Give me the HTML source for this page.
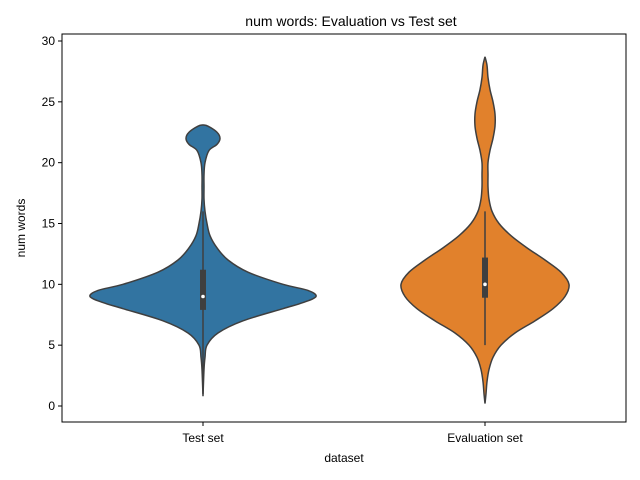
<!DOCTYPE html>
<html><head><meta charset="utf-8"><style>
body{margin:0;background:#fff;}
svg{display:block;font-family:"Liberation Sans","DejaVu Sans",sans-serif;}
</style></head><body>
<svg id="chart" width="640" height="480"></svg>
<script>
const categories=["Test set","Evaluation set"];
const colors=["#3274a1","#e1812c"];
const yTicks=[0,5,10,15,20,25,30];
const testVals=[0.8,3,4,5,6,7,8,8.5,9,9.5,10,11,12,13,14,15,16,17,18,19,20,21,21.5,22,22.5,23,23.1];
const testDens=[0,1,2,4,15,40,80,100,113,105,80,45,25,14,7,4,2,1,1,1,2,6,14,17,14,5,0];
const evalVals=[0.2,1,2,3,4,5,6,7,8,9,10,11,12,13,14,15,16,17,18,19,20,21,22,23,24,25,26,27,28,28.7];
const evalDens=[0,1,2,4,8,16,30,50,68,80,84,76,60,42,26,14,7,4,3,3,3,5,8,10,10,8,5,3,2,0];
const boxQ1=[7.9,8.9];
const boxQ3=[11.2,12.2];
const medians=[9,10];
const whiskLo=[1,5];
const whiskHi=[16,16];

const NS="http://www.w3.org/2000/svg";
const svg=document.getElementById('chart');
const L=62,R=626,T=34,B=422;
const y=v=>406-v*(365/30);
const x=i=>203+i*282;
function el(t,a,p){const e=document.createElementNS(NS,t);for(const k in a)e.setAttribute(k,a[k]);(p||svg).appendChild(e);return e;}
function smooth(pts){let d="M"+pts[0][0]+","+pts[0][1];for(let i=0;i<pts.length-1;i++){const p0=pts[Math.max(0,i-1)],p1=pts[i],p2=pts[i+1],p3=pts[Math.min(pts.length-1,i+2)];const c1=[p1[0]+(p2[0]-p0[0])/6,p1[1]+(p2[1]-p0[1])/6],c2=[p2[0]-(p3[0]-p1[0])/6,p2[1]-(p3[1]-p1[1])/6];d+=" C"+c1+" "+c2+" "+p2;}return d;}

const t=el('text',{x:351,y:26,'text-anchor':'middle','font-size':14,fill:'#000'});t.textContent="num words: Evaluation vs Test set";


const vals=[testVals,evalVals],dens=[testDens,evalDens];
for(let i=0;i<2;i++){
  const cx=x(i);
  const right=vals[i].map((v,j)=>[cx+dens[i][j],y(v)]);
  const left=vals[i].map((v,j)=>[cx-dens[i][j],y(v)]).reverse();
  const d=smooth(right)+" L"+smooth(left).slice(1)+" Z";
  const v=el('path',{d:d,fill:colors[i],stroke:'#3f3f3f','stroke-width':1.5});
  
  
  const w=el('line',{x1:cx,x2:cx,y1:y(whiskLo[i]),y2:y(whiskHi[i]),stroke:'#3f3f3f','stroke-width':1.5});
  
  const b=el('rect',{x:cx-3,y:y(boxQ3[i]),width:6,height:y(boxQ1[i])-y(boxQ3[i]),fill:'#3f3f3f'});
  
  const m=el('circle',{cx:cx,cy:y(medians[i]),r:1.8,fill:'#fff'});
  
  el('line',{x1:cx,x2:cx,y1:B,y2:B+4,stroke:'#000'});
  const lb=el('text',{x:cx,y:B+20,'text-anchor':'middle','font-size':12});lb.textContent=categories[i];
  
}
yTicks.forEach(v=>{
  el('line',{x1:L-4,x2:L,y1:y(v),y2:y(v),stroke:'#000'});
  const tx=el('text',{x:L-7,y:y(v)+4,'text-anchor':'end','font-size':12});tx.textContent=v;
  
});
const ax=el('rect',{x:L,y:T,width:R-L,height:B-T,fill:'none',stroke:'#000','stroke-width':1});

const xl=el('text',{x:344,y:462,'text-anchor':'middle','font-size':12});xl.textContent="dataset";

const yl=el('text',{x:25,y:228,'text-anchor':'middle','font-size':12,transform:'rotate(-90 25 228)'});yl.textContent="num words";

</script>
</body></html>
